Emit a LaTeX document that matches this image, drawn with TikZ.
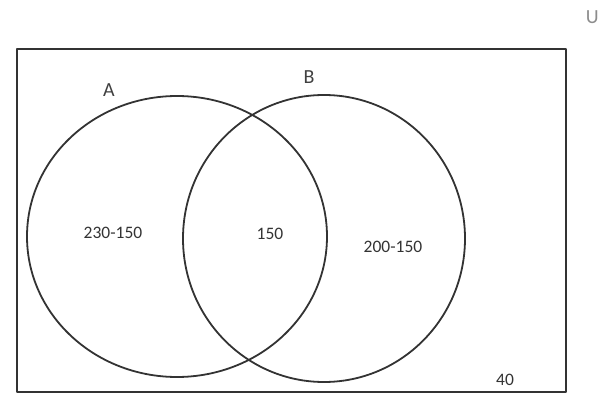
\documentclass[tikz,border=0pt]{standalone}
\usepackage{fontspec}
\setmainfont{Carlito}

\begin{document}
\begin{tikzpicture}[
  x=1pt,
  y=1pt,
  line cap=round,
  line join=round,
  universe/.style={draw=black!80,line width=2.2pt},
  set outline/.style={draw=black!80,line width=1.8pt},
  set name/.style={font=\fontsize{20}{22}\selectfont,text=black!75,inner sep=0pt},
  count/.style={font=\fontsize{17.5}{20}\selectfont,text=black!80,inner sep=0pt}
]
  \path[use as bounding box] (0,0) rectangle (600,394);

  % universal set and its name at the top right corner
  \draw[universe] (17,2) rectangle (566,345);
  \node[set name,anchor=north east,text=black!45] (U) at (599,384) {U};

  % the two sets
  \draw[set outline] (177,157.5) ellipse[x radius=150,y radius=140.5];
  \draw[set outline] (324,155.5) ellipse[x radius=141,y radius=143.5];
  \node[set name] (A) at (109,304) {A};
  \node[set name] (B) at (309,317) {B};

  % counts in each region
  \node[count] (onlyA) at (113,161) {230-150};
  \node[count] (AandB) at (270,160) {150};
  \node[count] (onlyB) at (393,147) {200-150};
  \node[count] (neither) at (505,14) {40};
\end{tikzpicture}
\end{document}
